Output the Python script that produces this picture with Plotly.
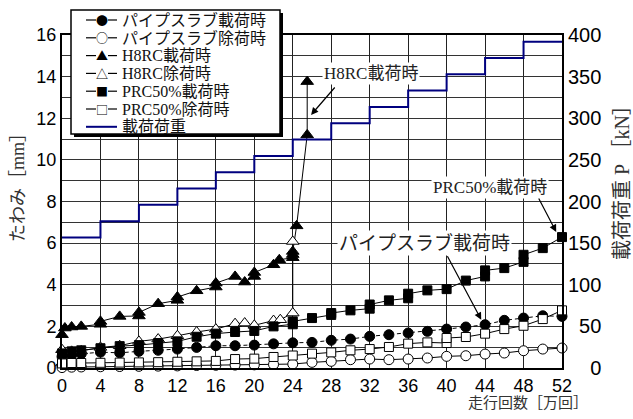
import plotly.graph_objects as go

# ---------------- data ----------------
pipe_load_x = [0, 1, 2, 4, 6, 8, 10, 12, 14, 16, 18, 20, 22, 24, 26, 28, 30, 32, 34, 36, 38, 40, 42, 44, 46, 48, 50, 52]
pipe_load_y = [0.55, 0.62, 0.68, 0.76, 0.73, 0.8, 0.85, 0.91, 0.99, 1.07, 1.07, 1.1, 1.16, 1.21, 1.23, 1.33, 1.39, 1.52, 1.6, 1.68, 1.76, 1.87, 1.97, 2.08, 2.29, 2.4, 2.51, 2.48]

pipe_unld_x = [0, 1, 2, 4, 6, 8, 10, 12, 14, 16, 18, 20, 22, 24, 26, 28, 30, 32, 34, 36, 38, 40, 42, 44, 46, 48, 50, 52]
pipe_unld_y = [0.02, 0.04, 0.05, 0.06, 0.07, 0.08, 0.09, 0.1, 0.12, 0.13, 0.14, 0.15, 0.17, 0.19, 0.27, 0.32, 0.4, 0.43, 0.4, 0.43, 0.48, 0.56, 0.59, 0.67, 0.72, 0.83, 0.91, 0.96]

h8rc_load_x = [0, 0.3, 1, 2, 4, 4, 6, 8, 8, 10, 12, 12, 14, 16, 16, 18, 19, 20, 20, 22, 22.6, 24, 24, 24, 24.4, 25.5, 25.5]
h8rc_load_y = [1.6, 1.92, 1.97, 2.0, 2.1, 2.24, 2.48, 2.5, 2.67, 3.09, 3.25, 3.41, 3.71, 3.89, 4.08, 4.40, 4.13, 4.40, 4.59, 4.96, 5.2, 5.3, 5.45, 5.6, 6.83, 11.2, 13.76]

h8rc_unld_x = [0, 0, 1, 2, 4, 6, 8, 10, 12, 14, 16, 18, 19, 20, 22, 22.7, 24, 24]
h8rc_unld_y = [0.24, 0.88, 0.8, 0.82, 0.99, 1.07, 1.28, 1.39, 1.55, 1.73, 1.87, 2.13, 2.16, 2.05, 2.28, 2.32, 2.64, 6.08]

prc_load_x = [0, 1, 2, 4, 6, 8, 10, 12, 14, 16, 18, 20, 22, 24, 24, 26, 28, 28, 30, 32, 32, 34, 36, 36, 38, 40, 42, 44, 44, 46, 48, 48, 50, 52]
prc_load_y = [0.7, 0.8, 0.85, 0.95, 1.05, 1.1, 1.2, 1.28, 1.5, 1.65, 1.73, 1.78, 2.0, 2.1, 2.24, 2.4, 2.55, 2.64, 2.77, 2.85, 3.05, 3.25, 3.35, 3.57, 3.73, 3.79, 4.2, 4.4, 4.69, 4.8, 5.1, 5.44, 5.76, 6.29]

prc_unld_x = [0, 1, 2, 4, 6, 8, 10, 12, 14, 16, 18, 20, 22, 24, 26, 28, 30, 32, 34, 36, 38, 40, 40, 42, 44, 46, 48, 50, 52]
prc_unld_y = [0.22, 0.24, 0.24, 0.25, 0.26, 0.27, 0.28, 0.3, 0.32, 0.34, 0.43, 0.45, 0.53, 0.6, 0.69, 0.75, 0.85, 0.91, 1.01, 1.17, 1.23, 1.2, 1.44, 1.49, 1.65, 1.87, 2.03, 2.35, 2.77]

load_x = [0, 4, 8, 12, 16, 20, 24, 28, 32, 36, 40, 44, 48, 52]
load_kn = [156.8, 176.4, 196.0, 215.6, 235.2, 254.8, 274.4, 294.0, 313.6, 333.2, 352.8, 372.4, 392.0, 392.0]

x_ticks = list(range(0, 53, 4))
y_ticks = list(range(0, 17, 2))
y2_ticks = list(range(0, 401, 50))

names = ["パイプスラブ載荷時", "パイプスラブ除荷時", "H8RC載荷時", "H8RC除荷時",
         "PRC50%載荷時", "PRC50%除荷時", "載荷荷重"]
legend_glyphs = ["●", "○", "▲", "△", "■", "□", ""]
LOAD_COLOR = "#00007f"

# ---------------- figure ----------------
SERIF = "Liberation Serif, Noto Sans CJK JP"
SANS = "Liberation Sans, Arial, sans-serif"
W, H = 633, 419
ML, MR, MT, MB = 62, 71, 35, 51
PW, PH = W - ML - MR, H - MT - MB


def px(xp):
    return (xp - ML) / PW


def py(yp):
    return (H - MB - yp) / PH


fig = go.Figure()


def add(x, y, name, symbol, filled, dash="solid", size=10):
    fig.add_trace(go.Scatter(
        x=x, y=y, name=name, mode="lines+markers",
        line=dict(color="black", width=1, dash=dash),
        marker=dict(symbol=symbol, size=size,
                    color="black" if filled else "white",
                    line=dict(color="black", width=1)),
        cliponaxis=False))


add(pipe_load_x, pipe_load_y, names[0], "circle", True, dash="4px,3px")
add(pipe_unld_x, pipe_unld_y, names[1], "circle", False)
add(h8rc_load_x, h8rc_load_y, names[2], "triangle-up", True, size=11)
add(h8rc_unld_x, h8rc_unld_y, names[3], "triangle-up", False, size=11)
add(prc_load_x, prc_load_y, names[4], "square", True, size=9)
add(prc_unld_x, prc_unld_y, names[5], "square", False, size=9)

fig.add_trace(go.Scatter(
    x=load_x, y=load_kn, name=names[6], mode="lines", yaxis="y2",
    line=dict(color=LOAD_COLOR, width=2, shape="hv")))

fig.update_layout(
    width=W, height=H,
    margin=dict(l=ML, r=MR, t=MT, b=MB),
    paper_bgcolor="white", plot_bgcolor="white",
    font=dict(family=SANS, size=18, color="black"),
    showlegend=False,
    xaxis=dict(range=[0, 52], tickvals=x_ticks, showgrid=True,
               gridcolor="#222", gridwidth=1,
               showline=True, linecolor="black", linewidth=2, mirror=True,
               zeroline=False, ticks=""),
    yaxis=dict(range=[0, 16], tickvals=y_ticks, showgrid=True,
               gridcolor="#333", gridwidth=1,
               minor=dict(dtick=1, showgrid=True, gridcolor="#333", gridwidth=1),
               showline=True, linecolor="black", linewidth=2, mirror=True,
               zeroline=False, ticks=""),
    yaxis2=dict(range=[0, 400], tickvals=y2_ticks,
                ticktext=[("\u2007" * (3 - len(str(v)))) + str(v) for v in y2_ticks],
                tickfont=dict(size=20),
                ticklabelstandoff=0,
                overlaying="y", side="right", showgrid=False,
                showline=True, linecolor="black", linewidth=2,
                zeroline=False, ticks=""),
)

# ---------------- legend box (drawn as shapes + text) ----------------
BX0, BX1, BY0, BY1 = 71, 280, 10, 134
fig.add_shape(type="rect", xref="paper", yref="paper",
              x0=px(BX0 + 3), x1=px(BX1 + 3), y0=py(BY0 + 3), y1=py(BY1 + 3),
              fillcolor="black", line=dict(width=0), layer="above")
fig.add_shape(type="rect", xref="paper", yref="paper",
              x0=px(BX0), x1=px(BX1), y0=py(BY0), y1=py(BY1),
              fillcolor="white", line=dict(color="black", width=1.5), layer="above")
row0, dy = 20, 17.8
for i, (nm, g) in enumerate(zip(names, legend_glyphs)):
    yc = row0 + i * dy
    if g:
        for a, b in [(86, 96), (108, 117)]:
            fig.add_shape(type="line", xref="paper", yref="paper",
                          x0=px(a), x1=px(b), y0=py(yc), y1=py(yc),
                          line=dict(color="black", width=1.2), layer="above")
        fig.add_annotation(text=g, xref="paper", yref="paper",
                           x=px(102), y=py(yc), showarrow=False,
                           xanchor="center", yanchor="middle",
                           font=dict(family="Noto Sans CJK JP", size=12, color="black"))
    else:
        fig.add_shape(type="line", xref="paper", yref="paper",
                      x0=px(86), x1=px(117), y0=py(yc), y1=py(yc),
                      line=dict(color=LOAD_COLOR, width=2), layer="above")
    fig.add_annotation(text=nm, xref="paper", yref="paper",
                       x=px(120), y=py(yc), showarrow=False,
                       xanchor="left", yanchor="middle",
                       font=dict(family=SERIF, size=16, color="#111"))

# axis titles
fig.add_annotation(text="たわみ［mm］", xref="paper", yref="paper",
                   x=px(18), y=py(183), textangle=-90, showarrow=False,
                   font=dict(family=SERIF, size=18, color="#333"),
                   xanchor="center", yanchor="middle")
fig.add_annotation(text="載荷荷重 P ［kN］", xref="paper", yref="paper",
                   x=px(622), y=py(178), textangle=-90, showarrow=False,
                   font=dict(family=SERIF, size=20, color="#333"),
                   xanchor="center", yanchor="middle")
fig.add_annotation(text="走行回数［万回］", xref="paper", yref="paper",
                   x=px(528), y=py(403), showarrow=False,
                   font=dict(family=SERIF, size=15, color="#333"),
                   xanchor="center", yanchor="middle")

# callout labels
fig.add_annotation(text="H8RC載荷時", x=32.1, y=14.16, showarrow=False,
                   bgcolor="white", font=dict(family=SERIF, size=17, color="#222"))
fig.add_annotation(text="PRC50%載荷時", x=44.5, y=8.66, showarrow=False,
                   bgcolor="white", font=dict(family=SERIF, size=17, color="#222"))
fig.add_annotation(text="パイプスラブ載荷時", x=37.7, y=6.0, showarrow=False,
                   bgcolor="white", font=dict(family=SERIF, size=19, color="#222"))

# arrows
for (hx, hy, tx, ty) in [(25.9, 12.16, 28.5, 13.55),
                         (51.4, 6.54, 49.5, 8.22),
                         (43.6, 2.32, 40.0, 5.44)]:
    fig.add_annotation(x=hx, y=hy, ax=tx, ay=ty, xref="x", yref="y",
                       axref="x", ayref="y", text="", showarrow=True,
                       arrowhead=2, arrowsize=1.2, arrowwidth=1.2,
                       arrowcolor="black")

fig.write_html("out.html")
